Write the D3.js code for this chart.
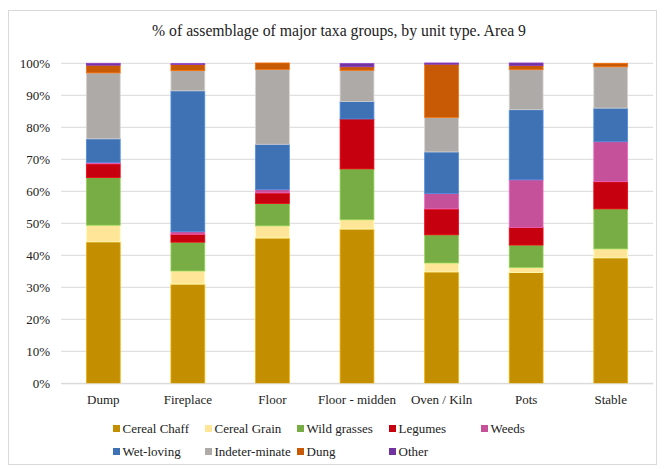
<!DOCTYPE html>
<html><head><meta charset="utf-8">
<script src="https://cdn.jsdelivr.net/npm/d3@7"></script>
</head><body style="margin:0">
<script>
const categories = ["Dump","Fireplace","Floor","Floor - midden","Oven / Kiln","Pots","Stable"];
const seriesNames = ["Cereal Chaff","Cereal Grain","Wild grasses","Legumes","Weeds","Wet-loving","Indeter-minate","Dung","Other"];
const cerealChaff   = [44.2, 31.0, 45.4, 48.2, 34.8, 34.6, 39.2];
const cerealGrain   = [ 5.2,  4.1,  3.8,  2.9,  2.8,  1.6,  2.8];
const wildGrasses   = [14.9,  9.0,  7.0, 15.9,  8.8,  7.0, 12.5];
const legumes       = [ 4.3,  2.5,  3.3, 15.6,  8.1,  5.5,  8.5];
const weeds         = [ 0.4,  0.8,  1.1,  0.0,  4.8, 14.9, 12.5];
const wetLoving     = [ 7.4, 44.0, 14.1,  5.5, 13.0, 21.9, 10.5];
const indeterminate = [20.6,  6.3, 23.4,  9.7, 10.8, 12.5, 12.9];
const dung          = [ 2.4,  1.9,  2.0,  1.1, 16.6,  1.3,  1.1];
const other         = [ 0.6,  0.3,  0.0,  1.0,  0.4,  0.8,  0.0];
const yTicks = [0,10,20,30,40,50,60,70,80,90,100];
const colors = ["#C38F00","#FFE597","#78AC45","#C6000F","#C4519A","#3F72B5","#AEAAA8","#C85A05","#7133A0"];

const seriesValues = [cerealChaff,cerealGrain,wildGrasses,legumes,weeds,wetLoving,indeterminate,dung,other];
const table = categories.map((c,i)=>{const o={cat:c}; seriesNames.forEach((s,j)=>o[s]=seriesValues[j][i]); return o;});

const W=664,H=469;
const svg=d3.select("body").append("svg").attr("width",W).attr("height",H).style("display","block");
const font='"Liberation Serif"';

svg.append("rect").attr("x",8.5).attr("y",10.5).attr("width",648).attr("height",454)
  .attr("fill","#fff").attr("stroke","#D9D9D9");

svg.append("text").attr("x",339).attr("y",36).attr("text-anchor","middle")
  .style("font-family",font).style("font-size","15.75px").attr("fill","#222")
  .text("% of assemblage of major taxa groups, by unit type. Area 9");

const x=d3.scaleBand().domain(categories).range([61,653]).paddingInner(0.6).paddingOuter(0.3);
const y=d3.scaleLinear().domain([0,100]).range([383.3,63.3]);

const g=svg.append("g");
g.selectAll("line.grid").data(yTicks).join("line")
  .attr("x1",61).attr("x2",653).attr("y1",d=>y(d)).attr("y2",d=>y(d))
  .attr("stroke","#D9D9D9").attr("stroke-width",1);

const yAxis=d3.axisLeft(y).tickValues(yTicks).tickFormat(d=>d+"%").tickSize(0).tickPadding(11);
const ya=svg.append("g").attr("transform","translate(61,0)").call(yAxis);
ya.attr("font-family",null).attr("font-size",null);
ya.select(".domain").remove();
ya.selectAll("text").style("font-family",font).style("font-size","13px").attr("fill","#222");

const stack=d3.stack().keys(seriesNames)(table);
svg.append("g").selectAll("g").data(stack).join("g")
  .attr("fill",(d,i)=>colors[i])
  .attr("stroke",(d,i)=>d3.color(colors[i]).brighter(0.6))
  .attr("stroke-width",0.8)
  .selectAll("rect").data(d=>d.filter(p=>p[1]-p[0]>0)).join("rect")
  .attr("x",d=>x(d.data.cat)).attr("width",x.bandwidth())
  .attr("y",d=>y(d[1])).attr("height",d=>y(d[0])-y(d[1]));

const xAxis=d3.axisBottom(x).tickSize(0).tickPadding(11);
const xa=svg.append("g").attr("transform","translate(0,383.3)").call(xAxis);
xa.attr("font-family",null).attr("font-size",null);
xa.select(".domain").attr("stroke","#D9D9D9");
xa.selectAll("text").style("font-family",font).style("font-size","13px").attr("fill","#222");

const legX=[113,205,297,389,481];
const legY=[433,456];
const lg=svg.append("g").selectAll("g").data(seriesNames).join("g")
  .attr("transform",(d,i)=>`translate(${legX[i%5]},${legY[Math.floor(i/5)]})`);
lg.append("rect").attr("x",0).attr("y",-8).attr("width",7).attr("height",7).attr("fill",(d,i)=>colors[i]);
lg.append("text").attr("x",9.5).attr("y",0).style("font-family",font).style("font-size","13px").attr("fill","#222").text(d=>d);
</script>
</body></html>
